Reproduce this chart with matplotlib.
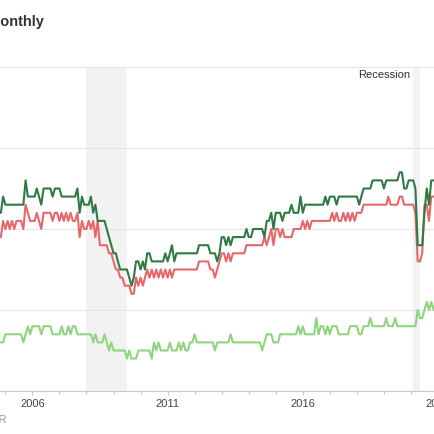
import matplotlib
matplotlib.use('Agg')
import matplotlib.pyplot as plt
import matplotlib.dates as mdates
import matplotlib.ticker as mticker
import pandas as pd
import datetime as dt

plt.rcParams['font.family'] = ['Liberation Sans', 'DejaVu Sans']

# Monthly values starting 2004-10 (one row per calendar year)
start = '2004-10-01'
dark_green = [
    2.2, 2.2, 2.4,
    2.3, 2.3, 2.3, 2.3, 2.3, 2.3, 2.3, 2.3, 2.3, 2.6, 2.4, 2.4,
    2.4, 2.4, 2.5, 2.4, 2.3, 2.5, 2.5, 2.5, 2.5, 2.4, 2.5, 2.5,
    2.5, 2.4, 2.4, 2.4, 2.4, 2.4, 2.4, 2.4, 2.5, 2.2, 2.4, 2.3,
    2.3, 2.3, 2.4, 2.2, 2.3, 2.1, 2.1, 2.1, 2.1, 2.0, 1.9, 1.8,
    1.7, 1.7, 1.6, 1.5, 1.5, 1.5, 1.5, 1.4, 1.3, 1.4, 1.6, 1.6,
    1.5, 1.6, 1.5, 1.7, 1.7, 1.6, 1.6, 1.6, 1.6, 1.6, 1.6, 1.7,
    1.6, 1.7, 1.8, 1.6, 1.7, 1.7, 1.7, 1.7, 1.7, 1.7, 1.7, 1.7,
    1.7, 1.7, 1.8, 1.8, 1.8, 1.8, 1.8, 1.7, 1.7, 1.7, 1.6, 1.7,
    1.9, 1.9, 1.8, 1.9, 1.8, 1.9, 1.9, 1.9, 1.9, 1.9, 1.9, 2.0,
    1.9, 1.9, 2.0, 2.0, 2.0, 2.0, 2.0, 1.9, 2.1, 2.1, 2.2, 2.0,
    2.2, 2.2, 2.2, 2.1, 2.2, 2.2, 2.2, 2.3, 2.2, 2.2, 2.2, 2.4,
    2.2, 2.3, 2.3, 2.3, 2.3, 2.3, 2.3, 2.3, 2.3, 2.3, 2.4, 2.3,
    2.4, 2.4, 2.4, 2.3, 2.4, 2.4, 2.4, 2.4, 2.4, 2.4, 2.4, 2.4,
    2.4, 2.3, 2.4, 2.5, 2.5, 2.5, 2.5, 2.6, 2.6, 2.6, 2.6, 2.6,
    2.5, 2.6, 2.6, 2.6, 2.6, 2.6, 2.6, 2.7, 2.7, 2.5, 2.5, 2.6,
    2.6, 2.6, 2.5, 1.8, 1.8, 1.8, 2.2, 2.5, 2.3, 2.6, 2.6, 2.6,
    2.6,
]
red = [
    1.9, 1.9, 2.1,
    2.0, 2.1, 2.0, 2.1, 2.0, 2.1, 2.1, 2.1, 2.0, 2.3, 2.2, 2.1,
    2.1, 2.1, 2.2, 2.1, 2.0, 2.2, 2.2, 2.2, 2.2, 2.1, 2.2, 2.2,
    2.1, 2.2, 2.1, 2.2, 2.1, 2.2, 2.1, 2.1, 2.2, 1.9, 2.1, 2.0,
    2.0, 2.1, 2.0, 2.1, 1.9, 2.1, 1.8, 1.8, 1.8, 1.8, 1.7, 1.7,
    1.6, 1.5, 1.5, 1.4, 1.4, 1.3, 1.3, 1.3, 1.2, 1.2, 1.4, 1.3,
    1.4, 1.3, 1.4, 1.5, 1.4, 1.5, 1.4, 1.5, 1.4, 1.5, 1.4, 1.5,
    1.4, 1.5, 1.4, 1.5, 1.5, 1.5, 1.5, 1.5, 1.5, 1.5, 1.5, 1.5,
    1.5, 1.5, 1.6, 1.6, 1.6, 1.6, 1.6, 1.5, 1.5, 1.4, 1.5, 1.6,
    1.7, 1.7, 1.6, 1.7, 1.6, 1.7, 1.7, 1.7, 1.7, 1.7, 1.7, 1.8,
    1.8, 1.8, 1.8, 1.8, 1.8, 1.8, 1.8, 1.9, 1.8, 1.9, 2.0, 1.8,
    2.0, 2.0, 1.9, 2.0, 1.9, 1.9, 1.9, 1.9, 2.0, 2.0, 2.0, 2.0,
    2.1, 2.0, 2.1, 2.0, 2.1, 2.1, 2.1, 2.1, 2.1, 2.1, 2.1, 2.1,
    2.1, 2.2, 2.1, 2.2, 2.1, 2.1, 2.2, 2.1, 2.2, 2.1, 2.2, 2.1,
    2.2, 2.2, 2.2, 2.3, 2.3, 2.3, 2.3, 2.3, 2.3, 2.3, 2.3, 2.3,
    2.3, 2.3, 2.4, 2.3, 2.3, 2.3, 2.3, 2.4, 2.4, 2.3, 2.3, 2.3,
    2.3, 2.3, 2.2, 1.6, 1.6, 1.7, 2.3, 2.3, 2.1, 2.4, 2.4, 2.4,
    2.4,
]
light_green = [
    0.6, 0.6, 0.6,
    0.7, 0.7, 0.7, 0.7, 0.7, 0.7, 0.7, 0.7, 0.6, 0.7, 0.8, 0.7,
    0.8, 0.8, 0.8, 0.8, 0.7, 0.8, 0.8, 0.8, 0.8, 0.7, 0.7, 0.7,
    0.7, 0.8, 0.7, 0.7, 0.8, 0.7, 0.8, 0.8, 0.7, 0.7, 0.7, 0.7,
    0.7, 0.7, 0.7, 0.6, 0.7, 0.6, 0.6, 0.6, 0.7, 0.6, 0.5, 0.6,
    0.5, 0.5, 0.5, 0.5, 0.5, 0.5, 0.4, 0.5, 0.4, 0.4, 0.4, 0.5,
    0.5, 0.5, 0.5, 0.5, 0.5, 0.4, 0.6, 0.5, 0.6, 0.5, 0.5, 0.5,
    0.5, 0.6, 0.5, 0.5, 0.5, 0.6, 0.5, 0.6, 0.5, 0.5, 0.6, 0.6,
    0.7, 0.6, 0.6, 0.6, 0.6, 0.6, 0.6, 0.6, 0.6, 0.5, 0.6, 0.6,
    0.6, 0.6, 0.6, 0.6, 0.7, 0.6, 0.6, 0.6, 0.6, 0.6, 0.6, 0.6,
    0.6, 0.6, 0.6, 0.6, 0.6, 0.6, 0.5, 0.6, 0.7, 0.7, 0.7, 0.6,
    0.6, 0.6, 0.7, 0.7, 0.7, 0.7, 0.7, 0.7, 0.7, 0.7, 0.8, 0.7,
    0.8, 0.7, 0.7, 0.7, 0.7, 0.7, 0.9, 0.7, 0.8, 0.8, 0.7, 0.8,
    0.7, 0.8, 0.8, 0.8, 0.7, 0.7, 0.7, 0.7, 0.7, 0.8, 0.8, 0.8,
    0.8, 0.7, 0.7, 0.8, 0.8, 0.8, 0.9, 0.8, 0.8, 0.8, 0.8, 0.8,
    0.8, 0.9, 0.8, 0.8, 0.8, 0.9, 0.8, 0.8, 0.8, 0.8, 0.8, 0.8,
    0.8, 0.8, 0.8, 1.0, 0.9, 0.9, 1.0, 1.1, 1.0, 1.1, 1.0, 1.1,
    1.1,
]
recession_starts = ['2008-01-01', '2020-02-01']
recession_ends = ['2009-07-01', '2020-05-01']
major_years = [2006, 2011, 2016, 2021]
minor_years = list(range(2004, 2023))

dates = pd.date_range(start, periods=len(dark_green), freq='MS')

W = H = 435
AXW = 480  # axes run past the right edge of the picture (cropped view)
fig = plt.figure(figsize=(W / 100, H / 100), dpi=100)
ax = fig.add_axes([0, 43 / H, AXW / W, 324 / H])

# x scale: 2006-01 at 32.4 px, 2011-01 at 167.6 px
d06 = mdates.date2num(dt.datetime(2006, 1, 1))
d11 = mdates.date2num(dt.datetime(2011, 1, 1))
ppd = (167.6 - 32.4) / (d11 - d06)
xmin = d06 - 32.4 / ppd
xmax = xmin + AXW / ppd
ax.set_xlim(xmin, xmax)
ax.set_ylim(0, 4)

for s, e in zip(recession_starts, recession_ends):
    ax.axvspan(pd.Timestamp(s), pd.Timestamp(e), color='#f2f2f2', lw=0, zorder=0)

ax.set_yticks([1, 2, 3, 4])
ax.yaxis.grid(True, color='#e6e6e6', lw=0.8, zorder=1)
ax.tick_params(axis='y', length=0, labelleft=False)
ax.set_axisbelow(True)
for g in ax.get_ygridlines():
    g.set_clip_on(False)

ax.plot(dates, light_green, color='#8fd47f', lw=1.5, zorder=3)
ax.plot(dates, red, color='#e8676a', lw=1.5, zorder=3)
ax.plot(dates, dark_green, color='#2f7a44', lw=1.5, zorder=4)

major_pos = [mdates.date2num(dt.datetime(y, 1, 1)) for y in major_years]
minor_pos = [mdates.date2num(dt.datetime(y, 1, 1)) for y in minor_years
             if y not in major_years]
ax.xaxis.set_major_locator(mticker.FixedLocator(major_pos))
ax.xaxis.set_minor_locator(mticker.FixedLocator(minor_pos))
ax.xaxis.set_major_formatter(mticker.FixedFormatter([str(y) for y in major_years]))
ax.tick_params(axis='x', which='major', length=3.2, width=0.8, color='#c8c8c8',
               labelsize=8, labelcolor='#444444', pad=2)
ax.tick_params(axis='x', which='minor', length=1.8, width=0.8, color='#c8c8c8')

for side in ['left', 'right', 'top']:
    ax.spines[side].set_visible(False)
ax.spines['bottom'].set_color('#c8c8c8')
ax.spines['bottom'].set_linewidth(0.8)
ax.patch.set_alpha(0)

fig.text(43.5 / W, 1 - 26 / H, 'Monthly', ha='right', va='baseline',
         fontsize=10.5, fontweight='bold', color='#333333')
fig.text(410 / W, 1 - 75 / H, 'Recession', ha='right', va='center',
         fontsize=8, color='#333333')
fig.text(6.5 / W, 1 - 420.5 / H, 'Source: FRASER', ha='right', va='center',
         fontsize=8, color='#999999')

fig.savefig('out.png', dpi=100)
